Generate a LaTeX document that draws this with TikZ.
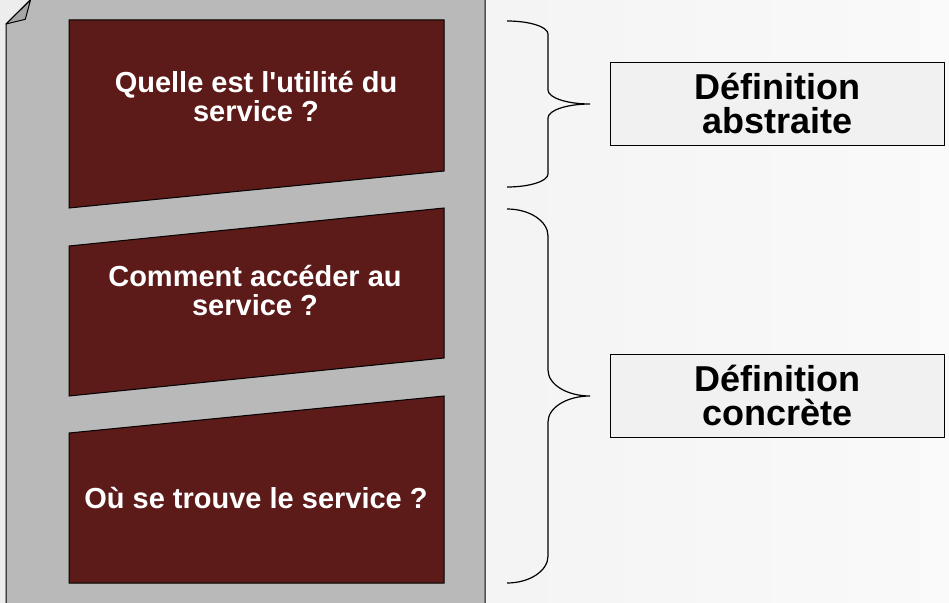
\documentclass[tikz,border=0pt]{standalone}
\usepackage{fontspec}
\newfontfamily\liber{Liberation Sans}
\definecolor{pagegray}{HTML}{B9B9B9}
\definecolor{foldgray}{HTML}{A6A6A6}
\definecolor{boxred}{HTML}{5C1A19}
\definecolor{defgray}{HTML}{F1F1F1}
\begin{document}
\begin{tikzpicture}[x=1pt,y=-1pt,line width=1pt,
    question/.style={text=white,font=\liber\fontsize{29}{28.5}\selectfont\bfseries,align=center},
    defbox/.style={draw,fill=defgray,minimum width=334pt,minimum height=83pt,inner sep=0pt,
      font=\liber\fontsize{36}{34}\selectfont\bfseries,align=center},
    brace/.style={line width=1.2pt}]
  \useasboundingbox (0,0) rectangle (949,602);
  \shade[left color=black!7,right color=black!2] (0,0) rectangle (949,602);
  \begin{scope}
    \clip (0,0) rectangle (949,602);
    \draw[fill=pagegray] (6,24) -- (35,-5) -- (485,-5) -- (485,610) -- (6,610) -- cycle;
  \end{scope}
  \draw[fill=foldgray,line join=round] (6,24) -- (30.5,0) -- (25.3,19.3) -- cycle;
  % the three questions
  \draw[fill=boxred] (69,20) -- (444,20) -- (444,171) -- (69,208) -- cycle;
  \draw[fill=boxred] (69,246) -- (444,208) -- (444,358) -- (69,396) -- cycle;
  \draw[fill=boxred] (69,433) -- (444,396) -- (444,583) -- (69,583) -- cycle;
  \node[question] (utilite) at (256,96.5) {Quelle est l'utilité du\\service ?};
  \node[question] (acces)   at (255,290.5) {Comment accéder au\\service ?};
  \node[question] (lieu)    at (256,498) {Où se trouve le service ?};
  % the two definitions
  \node[defbox] (abstraite) at (777.5,103.5) {Définition\\abstraite};
  \node[defbox] (concrete)  at (777.5,395.5) {Définition\\concrète};
  \draw[brace] (507,21) .. controls (529.6,21) and (548,26.8) .. (548,34)
    -- (548,90) .. controls (548,97.7) and (566.8,104) .. (590,104)
    .. controls (566.8,104) and (548,110.3) .. (548,118)
    -- (548,174) .. controls (548,181.2) and (529.6,187) .. (507,187);
  \draw[brace] (507,209) .. controls (529.6,209) and (548,221.1) .. (548,236)
    -- (548,370) .. controls (548,384.4) and (566.8,396) .. (590,396)
    .. controls (566.8,396) and (548,407.6) .. (548,422)
    -- (548,556) .. controls (548,570.9) and (529.6,583) .. (507,583);
\end{tikzpicture}
\end{document}
